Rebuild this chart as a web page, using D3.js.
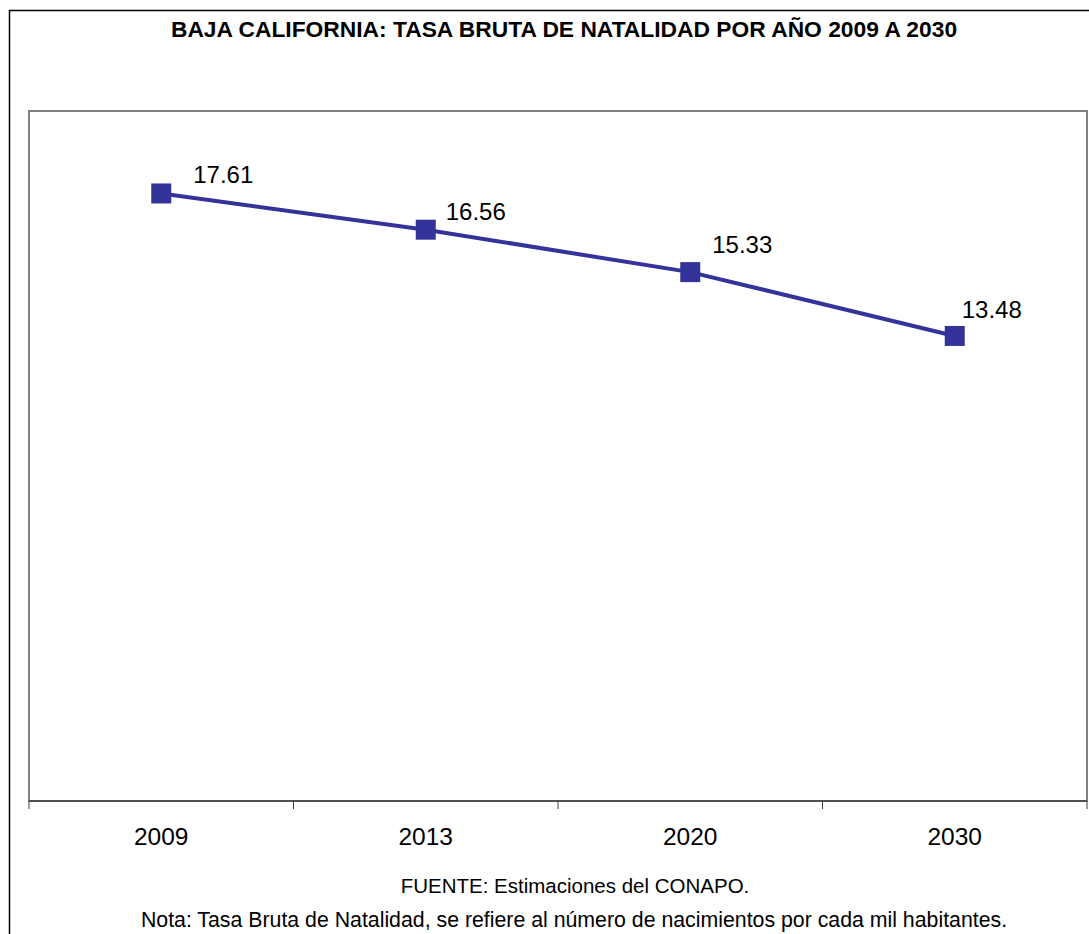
<!DOCTYPE html>
<html>
<head>
<meta charset="utf-8">
<script src="https://cdn.jsdelivr.net/npm/d3@7"></script>
<style>
  body { margin: 0; background: #fff; }
  svg text { font-family: "Liberation Sans", Arial, sans-serif; fill: #000; }
</style>
</head>
<body>
<script>
// values
var years = ["2009", "2013", "2020", "2030"];
var tasa = [17.61, 16.56, 15.33, 13.48];
var yDomain = [0, 20];

var title = "BAJA CALIFORNIA: TASA BRUTA DE NATALIDAD POR AÑO 2009 A 2030";
var fuente = "FUENTE: Estimaciones del CONAPO.";
var nota = "Nota: Tasa Bruta de Natalidad, se refiere al número de nacimientos por cada mil habitantes.";

// labels were dragged by hand in the original, so each gets its own nudge
var labelNudge = [[32, -10], [20, -10], [22, -19], [7, -18]];

var W = 1089, H = 934;
var plot = {left: 29, right: 1087, top: 111, bottom: 801};
var color = "#333399";

var svg = d3.select("body").append("svg")
  .attr("width", W)
  .attr("height", H);

// chart area border (runs off the right and bottom of the picture)
svg.append("rect")
  .attr("x", 9.5).attr("y", 10.5)
  .attr("width", 1200).attr("height", 1000)
  .attr("fill", "#fff")
  .attr("stroke", "#000")
  .attr("stroke-width", 1.5);

svg.append("text")
  .attr("x", 564).attr("y", 37)
  .attr("text-anchor", "middle")
  .style("font-size", "22.8px")
  .style("font-weight", "bold")
  .text(title);

var x = d3.scaleBand().domain(years).range([plot.left, plot.right]).padding(0);
var y = d3.scaleLinear().domain(yDomain).range([plot.bottom, plot.top]);

// plot area frame
svg.append("rect")
  .attr("x", plot.left).attr("y", plot.top)
  .attr("width", plot.right - plot.left)
  .attr("height", plot.bottom - plot.top)
  .attr("fill", "none")
  .attr("stroke", "#808080")
  .attr("stroke-width", 2);

// category axis, ticks sit between the categories
var xAxis = svg.append("g")
  .attr("transform", "translate(0," + plot.bottom + ")");
xAxis.append("line")
  .attr("x1", plot.left).attr("x2", plot.right)
  .attr("stroke", "#404040").attr("stroke-width", 1.5);
var edges = years.map(function(d) { return x(d); }).concat([x.range()[1]]);
xAxis.selectAll("line.tick").data(edges).enter().append("line")
  .attr("class", "tick")
  .attr("x1", function(d) { return d; }).attr("x2", function(d) { return d; })
  .attr("y1", 0).attr("y2", 8)
  .attr("stroke", "#404040").attr("stroke-width", 1);
xAxis.selectAll("text").data(years).enter().append("text")
  .attr("x", function(d) { return x(d) + x.bandwidth() / 2; })
  .attr("y", 44)
  .attr("text-anchor", "middle")
  .style("font-size", "24.5px")
  .text(function(d) { return d; });

var pts = years.map(function(d, i) { return {year: d, v: tasa[i], i: i}; });
var cx = function(d) { return x(d.year) + x.bandwidth() / 2; };

svg.append("path")
  .datum(pts)
  .attr("fill", "none")
  .attr("stroke", color)
  .attr("stroke-width", 4)
  .attr("d", d3.line().x(cx).y(function(d) { return y(d.v); }));

svg.selectAll("rect.marker").data(pts).enter().append("rect")
  .attr("class", "marker")
  .attr("x", function(d) { return cx(d) - 10; })
  .attr("y", function(d) { return y(d.v) - 10; })
  .attr("width", 20).attr("height", 20)
  .attr("fill", color);

svg.selectAll("text.lbl").data(pts).enter().append("text")
  .attr("class", "lbl")
  .attr("x", function(d) { return cx(d) + labelNudge[d.i][0]; })
  .attr("y", function(d) { return y(d.v) + labelNudge[d.i][1]; })
  .style("font-size", "24px")
  .text(function(d) { return d3.format(".2f")(d.v); });

svg.append("text")
  .attr("x", 575).attr("y", 893)
  .attr("text-anchor", "middle")
  .style("font-size", "20.5px")
  .text(fuente);

svg.append("text")
  .attr("x", 574).attr("y", 927)
  .attr("text-anchor", "middle")
  .style("font-size", "21.3px")
  .text(nota);
</script>
</body>
</html>
